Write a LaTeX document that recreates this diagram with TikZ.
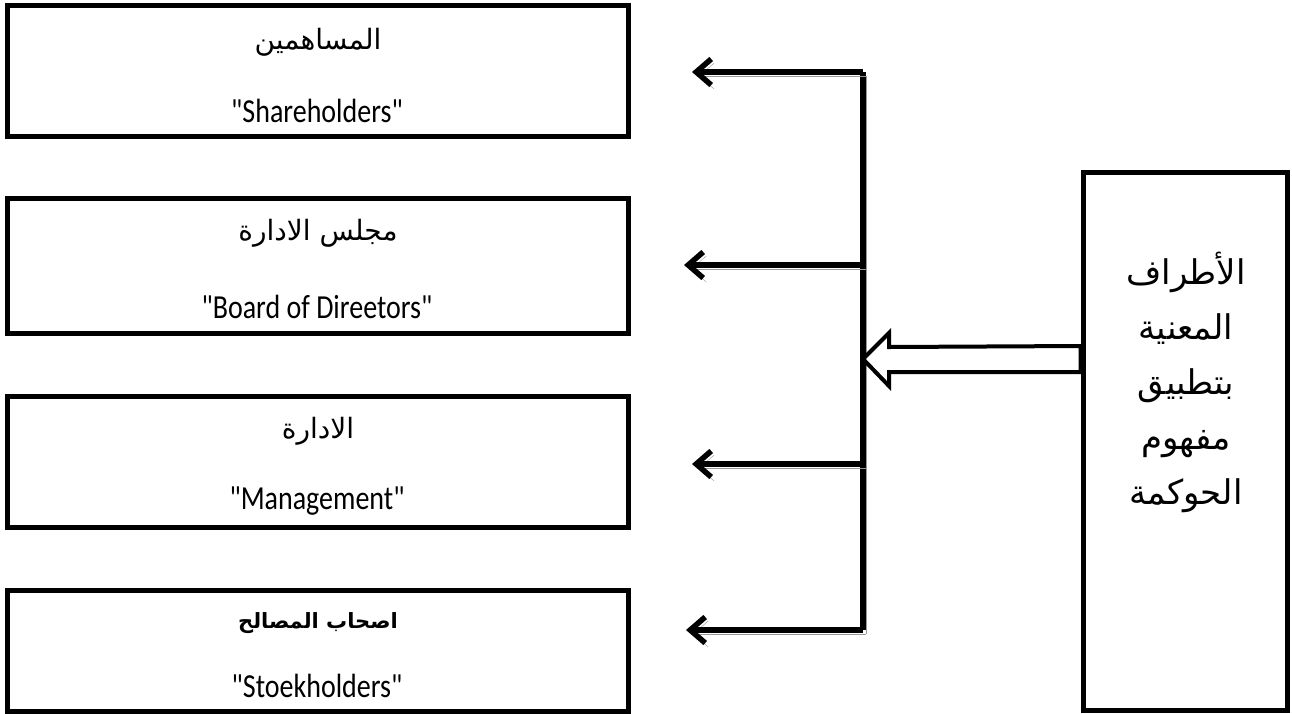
\documentclass[tikz,border=0pt]{standalone}
\usepackage{fontspec}
\usepackage{graphicx}
\newfontfamily\enfont{Carlito}
\newfontfamily\arabicfont[Script=Arabic]{DejaVu Sans}
\TeXXeTstate=1
\usetikzlibrary{arrows.meta}
\newcommand{\qq}[1]{\scalebox{1}[1.2]{"#1"}}

\begin{document}
\begin{tikzpicture}[x=1pt, y=-1pt,
                    party/.style={draw, line width=5pt, minimum width=621pt, inner sep=0pt},
                    ar label/.style={font=\arabicfont\fontsize{28}{32}\selectfont},
                    en label/.style={font=\enfont\fontsize{28}{32}\selectfont},
                    link/.style={line width=5.5pt, preaction={draw=black!40, transform canvas={shift={(3pt,-4pt)}}}},
                    link arrow/.style={link, -{Straight Barb[length=15pt, width=26pt, line width=5.5pt]}}]
  \useasboundingbox (0,0) rectangle (1292,713);

  % the four parties on the left
  \node[en label] (management en) at (317,501) {\qq{Management}};
  \node[party, minimum height=131pt] (shareholders) at (317.5,70.5) {};
  \node[party, minimum height=135pt] (board) at (317.5,265.5) {};
  \node[party, minimum height=131pt] (management) at (317.5,461.5) {};
  \node[party, minimum height=121pt] (stakeholders) at (317.5,650.5) {};

  \node[ar label] (shareholders ar) at (318,42) {\beginR المساهمين\endR};
  \node[en label] (shareholders en) at (317,111) {\qq{Shareholders}};
  \node[ar label] (board ar) at (318,233) {\beginR مجلس الادارة\endR};
  \node[en label] (board en) at (317,307) {\qq{Board of Direetors}};
  \node[ar label] (management ar) at (318,431) {\beginR الادارة\endR};
  \node[ar label, font=\arabicfont\bfseries\fontsize{21}{25}\selectfont] (stakeholders ar) at (318,623) {\beginR اصحاب المصالح\endR};
  \node[en label] (stakeholders en) at (317,686) {\qq{Stoekholders}};

  % the box on the right
  \node[draw, line width=5pt, minimum width=204pt, minimum height=538pt, inner sep=0pt] (parties) at (1185,441) {};
  \node[font=\arabicfont\fontsize{34}{55}\selectfont, align=center, anchor=north] (parties text) at (1186,248) {%
    \beginR الأطراف\endR\\ \beginR المعنية\endR\\ \beginR بتطبيق\endR\\ \beginR مفهوم\endR\\ \beginR الحوكمة\endR};

  % distribution line
  \coordinate (bus top) at (863,72);
  \coordinate (bus bottom) at (863,630);
  \coordinate (bus mid) at (863,359);
  \draw[link] (bus top) -- (bus bottom);

  \draw[link arrow] (bus top) -- (692,72);
  \draw[link arrow] (863,265) -- (684,265);
  \draw[link arrow] (863,464) -- (692,464);
  \draw[link arrow] (bus bottom) -- (686,630);

  % hollow arrow from the right box
  \draw[line width=4pt, fill=white, line join=miter]
    (bus mid) -- ++(26,-26) -- ++(0,14) -- (parties.west |- 0,346)
    -- (parties.west |- 0,372) -- (889,372) -- ++(0,14) -- cycle;
\end{tikzpicture}
\end{document}
